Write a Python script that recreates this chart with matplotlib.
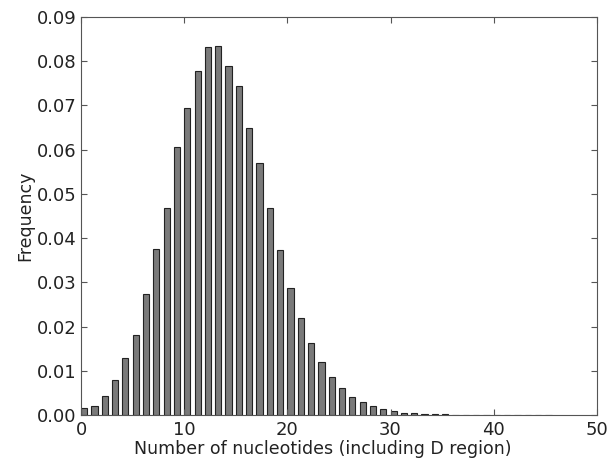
import matplotlib
matplotlib.use('Agg')
import matplotlib.pyplot as plt

# number of nucleotides (including D region) and their frequency
nucleotides = list(range(0, 46))
frequency = [0.0015, 0.0021, 0.0044, 0.0079, 0.0130, 0.0180, 0.0274, 0.0375,
             0.0469, 0.0607, 0.0694, 0.0777, 0.0832, 0.0835, 0.0789, 0.0744,
             0.0650, 0.0570, 0.0469, 0.0372, 0.0287, 0.0219, 0.0162, 0.0119,
             0.0087, 0.0062, 0.0041, 0.0029, 0.0020, 0.0013, 0.0009, 0.0005,
             0.0004, 0.0003, 0.0002, 0.00015, 0.0001, 0.00008, 0.00006, 0.00005,
             0.00004, 0.00003, 0.00002, 0.00002, 0.00001, 0.00001]

fig = plt.figure(figsize=(6.16, 4.61), dpi=100)
ax = fig.add_axes([0.1315, 0.0998, 0.8375, 0.8633])

ax.bar(nucleotides, frequency, width=0.6, align='edge',
       color='#7a7a7a', edgecolor='#222222', linewidth=0.8)

ax.set_xlim(0, 50)
ax.set_ylim(0, 0.09)
ax.set_xticks([0, 10, 20, 30, 40, 50])
ax.set_yticks([0.00, 0.01, 0.02, 0.03, 0.04, 0.05, 0.06, 0.07, 0.08, 0.09])
ax.set_yticklabels(['%.2f' % v for v in ax.get_yticks()])
ax.tick_params(direction='in', top=True, right=True, labelsize=13, length=4, pad=3,
               colors='#555555', labelcolor='#222222')
ax.tick_params(axis='x', pad=4)
for s in ax.spines.values():
    s.set_color('#555555')

ax.set_xlabel('Number of nucleotides (including D region)', fontsize=12.5,
              color='#222222')
ax.xaxis.set_label_coords(0.469, -0.062)
ax.set_ylabel('Frequency', fontsize=12.5, labelpad=2, color='#222222')

fig.savefig('out.png', dpi=100)
